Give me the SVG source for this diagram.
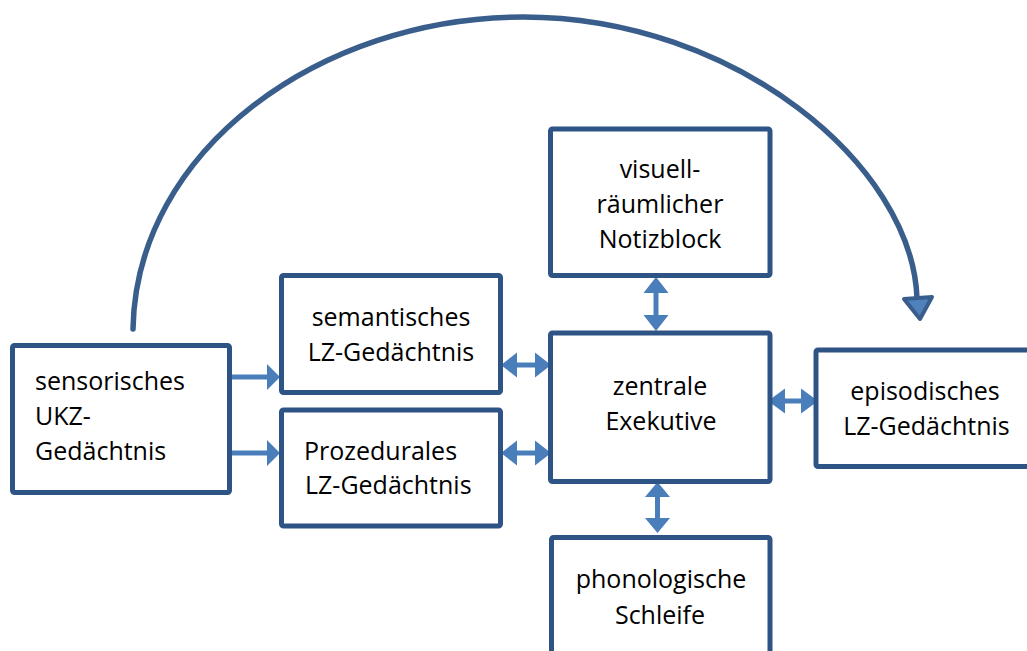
<svg xmlns="http://www.w3.org/2000/svg" width="1027" height="651" viewBox="0 0 1027 651">
  <style>
    .box { fill: #ffffff; stroke: #2e5385; stroke-width: 5; stroke-linejoin: round; }
    .lbl { font-family: "Open Sans", "Noto Sans", "Liberation Sans", sans-serif; font-size: 25px; fill: #000000; }
    .mid { text-anchor: middle; }
    .dbl { fill: #4a7ebb; }
    .arc { fill: none; stroke: #3a5e8c; stroke-width: 5.5; stroke-linecap: round; }
    .head { fill: #4f81bd; stroke: #3a5e8c; stroke-width: 4; stroke-linejoin: round; }
  </style>
  <rect width="1027" height="651" fill="#ffffff"/>

  <!-- connectors -->
  <g id="connectors">
    <!-- long curved arrow from the sensory store to the episodic store -->
    <path class="arc" d="M133,329 C136,150 320,17 523,17 C735,17 912,165 917,298"/>
    <polygon class="head" points="904,299 932,297 920,319"/>

    <!-- one-way arrows out of the sensory store -->
    <polygon class="dbl" points="232,374.5 267,374.5 267,364 280,377 267,390 267,379.5 232,379.5"/>
    <polygon class="dbl" points="232,450.5 267,450.5 267,440 280,453 267,466 267,455.5 232,455.5"/>

    <!-- two-way arrows around the central executive -->
    <polygon class="dbl" points="501,365 517,352.5 517,362.5 535,362.5 535,352.5 551,365 535,377.5 535,367.5 517,367.5 517,377.5"/>
    <polygon class="dbl" points="501,453 517,440.5 517,450.5 535,450.5 535,440.5 551,453 535,465.5 535,455.5 517,455.5 517,465.5"/>
    <polygon class="dbl" points="768,401 785,388.5 785,398.5 801,398.5 801,388.5 818,401 801,413.5 801,403.5 785,403.5 785,413.5"/>
    <polygon class="dbl" points="656,277 668.5,293 658.5,293 658.5,315 668.5,315 656,331 643.5,315 653.5,315 653.5,293 643.5,293"/>
    <polygon class="dbl" points="657.5,482 670,497 660,497 660,518 670,518 657.5,533 645,518 655,518 655,497 645,497"/>
  </g>

  <!-- nodes -->
  <g id="sensorisch">
    <rect class="box" x="12.5" y="345.5" width="217" height="147" rx="2"/>
    <text class="lbl" x="35" y="390">sensorisches</text>
    <text class="lbl" x="35" y="425">UKZ-</text>
    <text class="lbl" x="35" y="460">Gedächtnis</text>
  </g>

  <g id="semantisch">
    <rect class="box" x="281.5" y="275.5" width="219" height="117" rx="2"/>
    <text class="lbl mid" x="391" y="326">semantisches</text>
    <text class="lbl mid" x="391" y="361">LZ-Gedächtnis</text>
  </g>

  <g id="prozedural">
    <rect class="box" x="281.5" y="410" width="219" height="116" rx="2"/>
    <text class="lbl" x="304" y="460">Prozedurales</text>
    <text class="lbl" x="305" y="494">LZ-Gedächtnis</text>
  </g>

  <g id="notizblock">
    <rect class="box" x="550.5" y="129" width="219.5" height="146.5" rx="2"/>
    <text class="lbl mid" x="660" y="178">visuell-</text>
    <text class="lbl mid" x="660" y="213">räumlicher</text>
    <text class="lbl mid" x="660" y="248">Notizblock</text>
  </g>

  <g id="exekutive">
    <rect class="box" x="550.5" y="333" width="219.5" height="148.5" rx="2"/>
    <text class="lbl mid" x="660" y="395">zentrale</text>
    <text class="lbl mid" x="661" y="430">Exekutive</text>
  </g>

  <g id="episodisch">
    <rect class="box" x="816" y="350" width="230" height="116.5" rx="2"/>
    <text class="lbl mid" x="925" y="400">episodisches</text>
    <text class="lbl mid" x="926.5" y="435">LZ-Gedächtnis</text>
  </g>

  <g id="schleife">
    <rect class="box" x="551.5" y="537.5" width="218.5" height="130" rx="2"/>
    <text class="lbl mid" x="661" y="588">phonologische</text>
    <text class="lbl mid" x="660" y="624">Schleife</text>
  </g>
</svg>
